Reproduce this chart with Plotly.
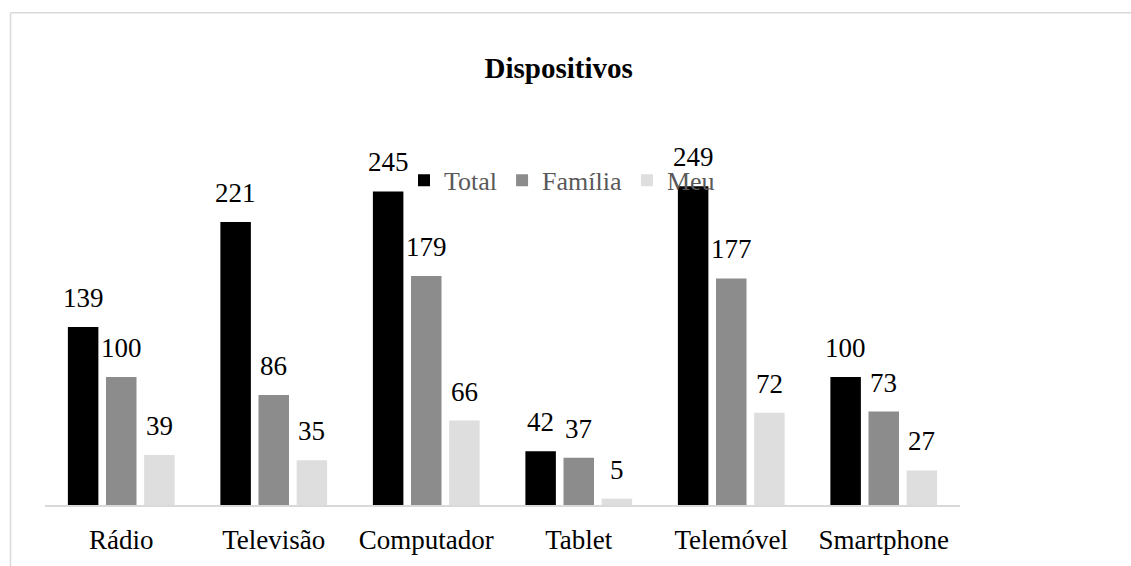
"""Grouped bar chart — Dispositivos (Total / Família / Meu)."""
import plotly.graph_objects as go

# ── data ─────────────────────────────────────────────────────────────
categories = ["Rádio", "Televisão", "Computador", "Tablet", "Telemóvel", "Smartphone"]
total = [139, 221, 245, 42, 249, 100]
familia = [100, 86, 179, 37, 177, 73]
meu = [39, 35, 66, 5, 72, 27]
series_names = ["Total", "Família", "Meu"]

# ── style ────────────────────────────────────────────────────────────
FONT = "Liberation Serif, Times New Roman, serif"
COLORS = ["#000000", "#8c8c8c", "#dedede"]
SLOT_PX = 38.2  # horizontal distance between bars within a group

fig = go.Figure()
for name, vals, color in zip(series_names, [total, familia, meu], COLORS):
    fig.add_trace(go.Bar(
        x=categories, y=vals, name=name,
        marker=dict(color=color, line=dict(width=0)),
    ))

# value labels above each bar
for i, vals in enumerate([total, familia, meu]):
    for cat, v in zip(categories, vals):
        fig.add_annotation(
            x=cat, y=v, xref="x", yref="y", text=str(v),
            showarrow=False, yanchor="bottom", xanchor="center",
            xshift=(i - 1) * SLOT_PX, yshift=12,
            font=dict(family=FONT, size=27, color="#000000"),
        )

# light chart-area frame (top + left edges visible in the crop)
L, T, R, B = 45, 505, 960, 384.3
def px_x(p):
    return (p - L) / (R - L)
def px_y(p):
    return (T - p) / B

frame = dict(type="line", xref="paper", yref="paper",
             line=dict(color="#d9d9d9", width=1.5), layer="below")
fig.add_shape(**frame, x0=px_x(10.5), x1=px_x(1140), y0=px_y(12.3), y1=px_y(12.3))
fig.add_shape(**frame, x0=px_x(10.5), x1=px_x(10.5), y0=px_y(12.3), y1=px_y(580))

fig.update_layout(
    width=1131, height=566,
    paper_bgcolor="white", plot_bgcolor="white",
    font=dict(family=FONT, size=27, color="#000000"),
    margin=dict(l=45, r=171, t=121, b=61),
    barmode="group", bargap=0.25, bargroupgap=0.2,
    title=dict(text="<b>Dispositivos</b>", x=0.494, xanchor="center",
               y=1 - 68 / 566, yanchor="middle",
               font=dict(family=FONT, size=29, color="#000000")),
    showlegend=True,
    legend=dict(orientation="h", x=px_x(562), xanchor="center",
                y=px_y(180), yanchor="middle",
                bgcolor="rgba(0,0,0,0)",
                font=dict(family=FONT, size=26, color="#595959")),
)
fig.update_xaxes(showline=True, linecolor="#d9d9d9", linewidth=1.5,
                 ticks="", showgrid=False, ticklabelstandoff=10, automargin=False)
fig.update_yaxes(range=[0, 300], visible=False, showgrid=False, zeroline=False,
                 automargin=False)

# drop the default body margin so the figure sits flush with the window
fig.write_html("out.html", config={"displayModeBar": False},
               post_script="document.body.style.margin='0';")
